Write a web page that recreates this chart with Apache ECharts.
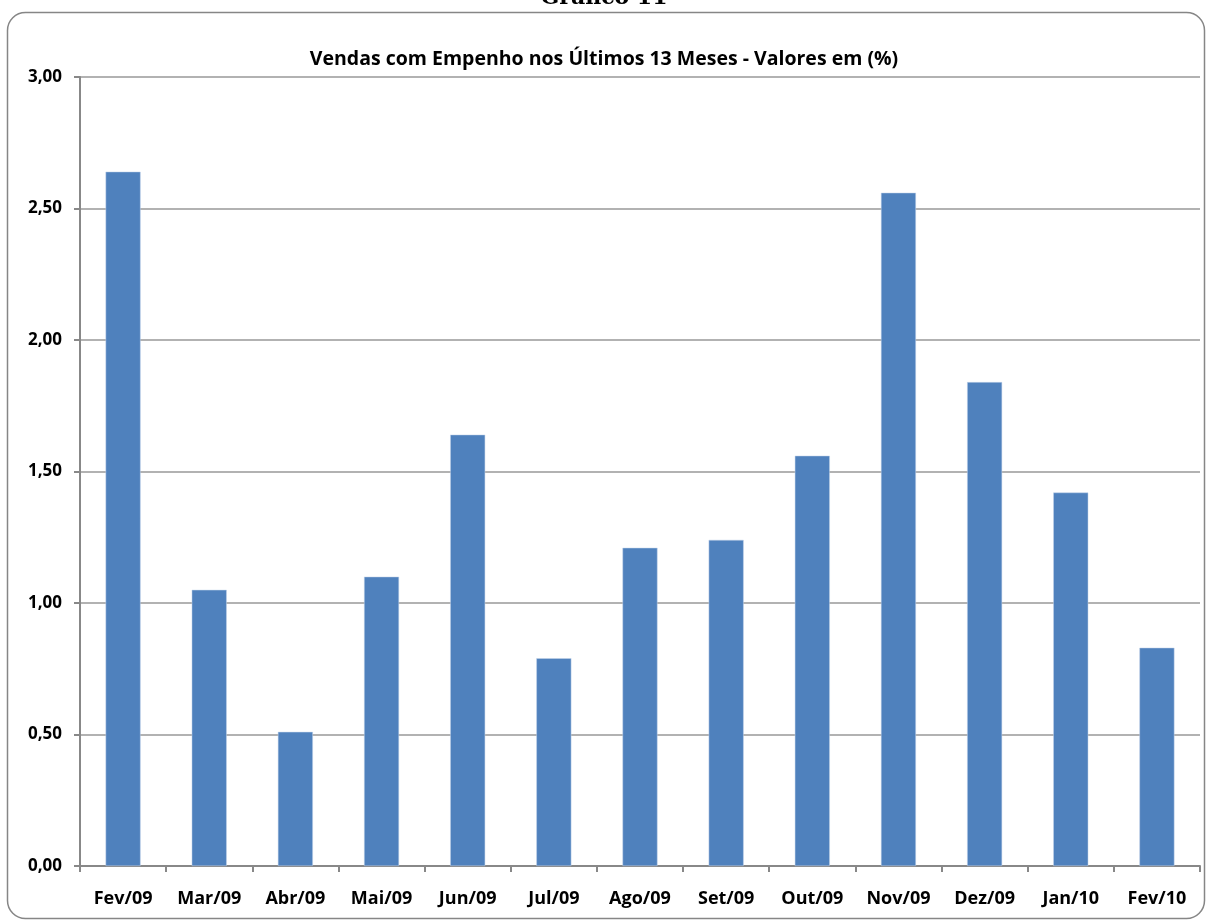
<!DOCTYPE html>
<html>
<head>
<meta charset="utf-8">
<script src="https://cdn.jsdelivr.net/npm/echarts@6/dist/echarts.min.js"></script>
<style>
html, body { margin: 0; padding: 0; background: #fff; }
#main { width: 1208px; height: 924px; }
</style>
</head>
<body>
<div id="main"></div>
<script>
var meses = ['Fev/09', 'Mar/09', 'Abr/09', 'Mai/09', 'Jun/09', 'Jul/09', 'Ago/09',
  'Set/09', 'Out/09', 'Nov/09', 'Dez/09', 'Jan/10', 'Fev/10']
var vendas = [2.64, 1.05, 0.51, 1.10, 1.64, 0.79, 1.21, 1.24, 1.56, 2.56, 1.84, 1.42, 0.83]
var yTicks = [0, 0.5, 1, 1.5, 2, 2.5, 3]

var myChart = echarts.init(document.getElementById('main'))
myChart.setOption({
  backgroundColor: '#fff',
  animation: false,
  title: {
    text: 'Vendas com Empenho nos Últimos 13 Meses - Valores em (%)',
    left: 'center',
    top: 44,
    textStyle: {
      fontFamily: 'Open Sans',
      fontWeight: 'bold',
      fontSize: 19.5,
      color: '#000'
    }
  },
  graphic: [
    {
      type: 'rect',
      shape: { x: 7.5, y: 12.5, width: 1197, height: 906, r: 18 },
      style: { fill: 'none', stroke: '#868686', lineWidth: 1.5 },
      z: -1
    },
    {
      type: 'text',
      left: 'center',
      top: -13,
      style: {
        text: 'Gráfico 11',
        fontFamily: 'DejaVu Serif',
        fontWeight: 'bold',
        fontSize: 22,
        fill: '#000'
      }
    }
  ],
  grid: { left: 80, right: 8, top: 77, bottom: 58, containLabel: false },
  xAxis: {
    type: 'category',
    data: meses,
    axisLine: { lineStyle: { color: '#888', width: 2 } },
    axisTick: { show: true, length: 6, lineStyle: { color: '#888', width: 2 } },
    axisLabel: {
      fontFamily: 'Open Sans',
      fontWeight: 'bold',
      fontSize: 18,
      color: '#000',
      margin: 24
    }
  },
  yAxis: {
    type: 'value',
    min: yTicks[0],
    max: yTicks[yTicks.length - 1],
    interval: 0.5,
    axisLine: { show: true, lineStyle: { color: '#888', width: 2 } },
    axisTick: { show: true, length: 6, lineStyle: { color: '#888', width: 2 } },
    splitLine: { lineStyle: { color: '#999', width: 1.5 } },
    axisLabel: {
      fontFamily: 'Open Sans',
      fontWeight: 'bold',
      fontSize: 17,
      color: '#000',
      margin: 18,
      formatter: function (v) { return v.toFixed(2).replace('.', ',') }
    }
  },
  series: [
    {
      type: 'bar',
      data: vendas,
      barWidth: 35,
      itemStyle: { color: '#4f81bd', borderColor: '#c4d4ea', borderWidth: 0.5 }
    }
  ]
})
</script>
</body>
</html>
